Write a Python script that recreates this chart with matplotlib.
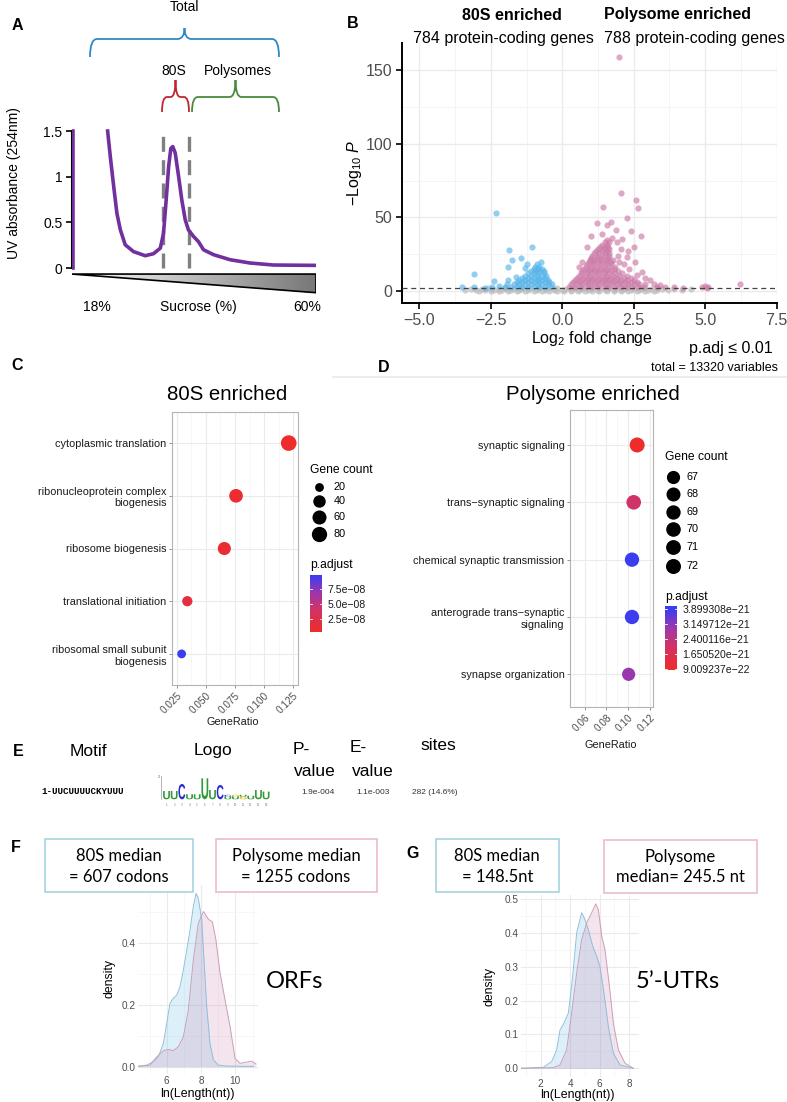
import numpy as np
import matplotlib
matplotlib.use('Agg')
import matplotlib.pyplot as plt
from matplotlib.colors import LinearSegmentedColormap, Normalize
from matplotlib.patches import Polygon, Rectangle, PathPatch
from matplotlib.path import Path
from matplotlib.textpath import TextPath
from matplotlib.font_manager import FontProperties
from matplotlib.transforms import Affine2D

plt.rcParams['font.family'] = ['Liberation Sans', 'DejaVu Sans']
plt.rcParams['mathtext.fontset'] = 'custom'
plt.rcParams['mathtext.rm'] = 'Liberation Sans'
plt.rcParams['mathtext.it'] = 'Liberation Sans:italic'
plt.rcParams['mathtext.bf'] = 'Liberation Sans:bold'

W, H = 787, 1102

# ---- A: polysome profile (x = fraction of gradient) ----
profile_x = [0.004, 0.004, np.nan, 0.146, 0.157, 0.171, 0.184, 0.198, 0.218, 0.252, 0.300, 0.334,
             0.362, 0.375, 0.386, 0.396, 0.405, 0.413, 0.423, 0.437, 0.450, 0.464, 0.477,
             0.498, 0.518, 0.539, 0.580, 0.648, 0.730, 0.825, 1.0]
profile_y = [0.0, 1.5, np.nan, 1.5, 1.22, 0.89, 0.60, 0.42, 0.255, 0.18, 0.135, 0.157,
             0.218, 0.38, 0.746, 1.11, 1.31, 1.33, 1.26, 1.00, 0.746, 0.528, 0.419,
             0.346, 0.29, 0.20, 0.146, 0.091, 0.055, 0.033, 0.029]
gate_x = [0.371, 0.479]

# ---- B: volcano ----
padj_line = 2.0
gray_rows = [
    (0.3, [-2.9, -2.5, -2.2, -1.9, -1.6, -1.3, -1.0, -0.7, -0.45, -0.2, 0.05, 0.3, 0.55, 0.8,
           1.05, 1.3, 1.55, 1.8, 2.05, 2.3, 2.6, 2.9, 3.2]),
    (0.9, [-3.4, -3.0, -2.7, -2.4, -2.1, -1.8, -1.5, -1.2, -0.9, -0.6, -0.3, 0.0, 0.3, 0.6,
           0.9, 1.2, 1.5, 1.8, 2.1, 2.4, 2.7, 3.0, 3.3, 3.7, 4.2]),
    (1.5, [-3.2, -2.8, -2.5, -2.2, -1.95, -1.7, -1.45, -1.15, -0.85, -0.55, -0.25, 0.1, 0.4,
           0.7, 1.0, 1.3, 1.6, 1.9, 2.2, 2.5, 2.8, 3.1, 3.5, 3.9, 4.5]),
    (1.95, [-2.6, -2.0, -1.4, -0.8, -0.2, 0.35, 0.95, 1.55, 2.15, 2.75, 3.3]),
]
blue_rows = [
    (3.0, [-1.8, -1.6, -1.4, -1.2, -1.0, -0.8, -0.6, -0.4]),
    (4.5, [-1.7, -1.5, -1.3, -1.1, -0.9, -0.7, -0.5, -0.35]),
    (6.0, [-1.6, -1.4, -1.2, -1.0, -0.8, -0.6, -0.45]),
    (7.5, [-1.5, -1.3, -1.1, -0.9, -0.7, -0.5]),
    (9.0, [-1.4, -1.2, -1.0, -0.8, -0.6]),
    (10.5, [-1.3, -1.1, -0.9, -0.7, -0.58]),
    (12.0, [-1.2, -1.0, -0.85, -0.65]),
    (13.5, [-1.1, -0.95, -0.78, -0.65]),
    (15.0, [-1.0, -0.85, -0.72]),
    (16.5, [-0.95, -0.8]),
    (18.0, [-0.88]),
]
blue_x = [-2.32, -1.07, -1.85, -1.44, -1.77, -1.89, -3.08, -2.38, -1.62, -1.3, -1.25, -0.75,
          -3.5, -3.1, -2.7, -2.45, -2.2, -2.0, -1.95, -1.9]
blue_y = [53.3, 29.9, 28.1, 22.4, 20.8, 16.3, 11.8, 6.8, 9.5, 15.5, 18.0, 19.5,
          2.4, 2.6, 2.3, 2.8, 3.6, 2.5, 4.5, 7.5]
pink_rows = [
    (3.0, [0.25, 0.45, 0.65, 0.85, 1.05, 1.25, 1.45, 1.65, 1.85, 2.05, 2.25, 2.45, 2.65, 2.85]),
    (4.5, [0.3, 0.5, 0.7, 0.9, 1.1, 1.3, 1.5, 1.7, 1.9, 2.1, 2.3, 2.5, 2.7]),
    (6.0, [0.38, 0.58, 0.78, 0.98, 1.18, 1.38, 1.58, 1.78, 1.98, 2.18, 2.4, 2.6]),
    (7.5, [0.45, 0.65, 0.85, 1.05, 1.25, 1.45, 1.65, 1.85, 2.05, 2.25, 2.5]),
    (9.0, [0.52, 0.72, 0.92, 1.12, 1.32, 1.52, 1.72, 1.92, 2.15, 2.4]),
    (10.5, [0.58, 0.78, 0.98, 1.18, 1.38, 1.58, 1.78, 2.0, 2.25]),
    (12.0, [0.65, 0.85, 1.05, 1.25, 1.45, 1.65, 1.85, 2.1]),
    (13.5, [0.7, 0.9, 1.1, 1.3, 1.5, 1.7, 1.95]),
    (15.0, [0.76, 0.96, 1.16, 1.36, 1.56, 1.8]),
    (16.5, [0.82, 1.02, 1.22, 1.42, 1.62, 1.85]),
    (18.0, [0.88, 1.08, 1.28, 1.48, 1.7]),
    (19.5, [0.92, 1.12, 1.32, 1.52, 1.72]),
    (21.0, [0.96, 1.16, 1.36, 1.56, 1.76]),
    (22.5, [1.0, 1.2, 1.4, 1.6]),
    (24.0, [1.05, 1.25, 1.45, 1.62]),
    (25.5, [1.1, 1.3, 1.5, 1.65]),
    (27.0, [1.18, 1.38, 1.58]),
    (28.5, [1.25, 1.45, 1.62]),
    (30.0, [1.32, 1.5]),
    (31.5, [1.4, 1.58]),
    (33.0, [1.48, 1.62]),
    (34.5, [1.55]),
]
pink_x = [2.0, 2.04, 2.57, 2.64, 1.41, 2.25, 1.23, 1.55, 1.88, 2.4, 2.74, 1.0, 1.38, 2.51, 2.07,
          0.85, 2.25, 2.55, 2.78, 3.07, 3.42, 5.0, 5.05, 6.22, 4.23, 1.75, 1.9, 2.1, 1.95, 2.15,
          2.35, 2.6, 2.9, 3.2, 3.6, 3.9, 0.7, 0.6, 1.7, 1.6, 2.0, 2.3, 2.9, 3.3, 4.9, 5.1]
pink_y = [159, 66.6, 61.6, 56.4, 57.1, 49.6, 46.5, 44.6, 41.2, 40.6, 37.4, 37.4, 39, 29.9, 28.8,
          29.9, 23.1, 19.7, 12.9, 7.3, 3.9, 3.2, 2.3, 4.5, 2.3, 36, 33, 35, 24, 18,
          15, 11, 9, 5, 3, 2.4, 20, 16, 47, 30, 20, 27, 4.5, 2.6, 2.6, 2.8]

# ---- C: 80S enriched GO terms ----
c_terms = ['cytoplasmic translation', 'ribonucleoprotein complex\nbiogenesis',
           'ribosome biogenesis', 'translational initiation',
           'ribosomal small subunit\nbiogenesis']
c_ratio = [0.1213, 0.0759, 0.0658, 0.0339, 0.0290]
c_count = [86, 54, 47, 24, 21]
c_padj = [3.5e-9, 6.0e-9, 8.0e-9, 1.5e-8, 9.8e-8]
c_count_breaks = [20, 40, 60, 80]
c_padj_breaks = [2.5e-8, 5.0e-8, 7.5e-8]
c_padj_labels = ['2.5e\u221208', '5.0e\u221208', '7.5e\u221208']

# ---- D: polysome enriched GO terms ----
d_terms = ['synaptic signaling', 'trans\u2212synaptic signaling', 'chemical synaptic transmission',
           'anterograde trans\u2212synaptic\nsignaling', 'synapse organization']
d_ratio = [0.1085, 0.1053, 0.1037, 0.1037, 0.1006]
d_count = [72, 70, 69, 69, 67]
d_padj = [9.009237e-22, 2.1e-21, 3.899308e-21, 3.87e-21, 3.0e-21]
d_count_breaks = [67, 68, 69, 70, 71, 72]
d_padj_breaks = [3.899308e-21, 3.149712e-21, 2.400116e-21, 1.650520e-21, 9.009237e-22]

# ---- E: motif logo (letter, height in px per column) ----
logo_cols = [[('U', 8.3)], [('U', 8.3)], [('C', 15.3)], [('U', 5.0)], [('U', 5.0)],
             [('U', 21.0)], [('U', 9.3)], [('C', 14.3)], [('U', 3.0), ('C', 1.5)],
             [('U', 3.0), ('G', 1.5)], [('G', 2.5), ('U', 2.0)], [('U', 3.5)],
             [('U', 9.3)], [('U', 7.7)]]
logo_colors = {'U': '#2f9a35', 'C': '#2a2ad0', 'G': '#f0b400'}

# ---- F: ORF length densities ----
f80_x = [4.35, 4.83, 5.22, 5.51, 5.81, 6.0, 6.19, 6.39, 6.58, 6.78, 6.97, 7.17, 7.36, 7.55,
         7.71, 7.84, 8.04, 8.17, 8.33, 8.52, 8.72, 9.01, 9.5, 11.05]
f80_y = [0.002, 0.005, 0.016, 0.032, 0.076, 0.14, 0.205, 0.222, 0.232, 0.26, 0.314, 0.378,
         0.443, 0.519, 0.562, 0.546, 0.476, 0.346, 0.195, 0.076, 0.022, 0.005, 0.002, 0.001]
fpol_x = [4.35, 5.03, 5.42, 5.81, 6.1, 6.39, 6.68, 6.97, 7.26, 7.55, 7.84, 8.14, 8.43, 8.66,
          8.87, 9.11, 9.4, 9.69, 9.98, 10.27, 10.66, 10.95, 11.2]
fpol_y = [0.001, 0.005, 0.032, 0.052, 0.056, 0.052, 0.065, 0.097, 0.184, 0.346, 0.465, 0.503,
          0.478, 0.47, 0.41, 0.303, 0.216, 0.13, 0.027, 0.011, 0.015, 0.018, 0.009]

# ---- G: 5'UTR length densities ----
g80_x = [0.64, 2.18, 2.75, 3.08, 3.31, 3.58, 3.88, 4.17, 4.44, 4.78, 5.0, 5.23, 5.53, 5.80,
         6.02, 6.29, 6.59, 6.93, 7.38, 8.28]
g80_y = [0.0, 0.003, 0.02, 0.054, 0.113, 0.133, 0.163, 0.271, 0.399, 0.459, 0.439, 0.409,
         0.36, 0.33, 0.30, 0.222, 0.123, 0.044, 0.01, 0.0]
gpol_x = [0.64, 2.86, 3.31, 3.76, 4.10, 4.44, 4.78, 5.12, 5.46, 5.73, 5.91, 6.14, 6.36, 6.66,
          6.93, 7.27, 7.72, 8.28]
gpol_y = [0.0, 0.002, 0.01, 0.054, 0.163, 0.281, 0.38, 0.429, 0.459, 0.485, 0.468, 0.39,
          0.35, 0.242, 0.133, 0.054, 0.015, 0.0]

cmap = LinearSegmentedColormap.from_list(
    'padj', [(0, '#ee2c2c'), (0.4, '#cf3468'), (0.7, '#9b37af'), (1, '#3b3df0')])

fig = plt.figure(figsize=(W / 100, H / 100), dpi=100)


def px_axes(l, t, r, b):
    return fig.add_axes([l / W, 1 - b / H, (r - l) / W, (b - t) / H])


def flatten(rows):
    xs, ys = [], []
    for y, row in rows:
        xs += row
        ys += [y] * len(row)
    return xs, ys


# ---------------- A ----------------
axA = px_axes(72, 121.9, 316, 313.7)
axA.set_xlim(0, 1)
axA.set_ylim(-0.5, 1.6)
for g in gate_x:
    axA.plot([g, g], [0, 1.5], color='#808080', lw=2.4, ls=(0, (4.5, 2.5)), zorder=2)
axA.plot(profile_x, profile_y, color='#7030a0', lw=2.6, zorder=3)
tri = Polygon([(0, -0.066), (1, -0.066), (1, -0.27)], closed=True, fc='none', ec='black', lw=1.2)
grad = axA.imshow(np.linspace(0, 1, 256)[None, :], extent=(0, 1, -0.27, -0.066), aspect='auto',
                  cmap=LinearSegmentedColormap.from_list('g', ['white', '#777777']), zorder=1)
axA.add_patch(tri)
grad.set_clip_path(tri)
for s in ['top', 'right', 'bottom']:
    axA.spines[s].set_visible(False)
axA.spines['left'].set_bounds(0, 1.5)
axA.spines['left'].set_linewidth(1.5)
axA.set_xticks([])
axA.set_yticks([0, 0.5, 1, 1.5])
axA.set_yticklabels(['0', '0.5', '1', '1.5'])
axA.tick_params(axis='y', length=4, width=1.2, labelsize=10, pad=3)
axA.patch.set_alpha(0)

# ---------------- B ----------------
axB = px_axes(402, 43, 777, 303)
axB.set_xlim(-5.605, 7.51)
axB.set_ylim(-8.15, 168.4)
gx, gy = flatten(gray_rows)
bx, by = flatten(blue_rows)
px_, py_ = flatten(pink_rows)
axB.scatter(gx, gy, s=20, color='#bdbdbd', alpha=0.7, lw=0, zorder=2)
axB.scatter(bx + blue_x, by + blue_y, s=20, color='#56B4E9', alpha=0.65, lw=0, zorder=3)
axB.scatter(px_ + pink_x, py_ + pink_y, s=20, color='#CC79A7', alpha=0.65, lw=0, zorder=3)
axB.axhline(padj_line, color='#444444', lw=0.9, ls=(0, (4, 3)), zorder=4)
axB.set_xticks([-5, -2.5, 0, 2.5, 5, 7.5])
axB.set_xticklabels(['\u22125.0', '\u22122.5', '0.0', '2.5', '5.0', '7.5'])
axB.set_xticks([-3.75, -1.25, 1.25, 3.75, 6.25], minor=True)
axB.set_yticks([0, 50, 100, 150])
axB.set_yticks([25, 75, 125], minor=True)
axB.grid(which='major', color='#ebebeb', lw=1.0)
axB.grid(which='minor', color='#f3f3f3', lw=0.6)
axB.set_axisbelow(True)
for s in ['top', 'right']:
    axB.spines[s].set_visible(False)
for s in ['left', 'bottom']:
    axB.spines[s].set_linewidth(1.4)
axB.tick_params(which='major', length=4, width=1.2, labelsize=11.5, labelcolor='#4d4d4d', pad=3)
axB.tick_params(which='minor', length=0)


# ---------------- C / D dot plots ----------------
def dotplot(ax, terms, ratio, count, padj, norm, radius, xlim, ylim, xticks, xlabels, xminor):
    ys = np.arange(1, len(terms) + 1)
    sizes = [(1.44 * radius(c)) ** 2 for c in count]
    ax.scatter(ratio, ys, s=sizes, c=padj, cmap=cmap, norm=norm, lw=0, zorder=3)
    ax.set_xlim(xlim)
    ax.set_ylim(ylim)
    ax.set_yticks(ys)
    ax.set_yticklabels(terms, fontsize=7.8, color='#1a1a1a')
    ax.set_xticks(xticks)
    ax.set_xticklabels(xlabels, fontsize=7.2, color='#4d4d4d', rotation=45,
                       ha='right', va='top', rotation_mode='anchor')
    ax.set_xticks(xminor, minor=True)
    ax.grid(which='major', color='#ebebeb', lw=0.8)
    ax.grid(which='minor', axis='x', color='#f4f4f4', lw=0.5)
    ax.set_axisbelow(True)
    for s in ax.spines.values():
        s.set_color('#b3b3b3')
        s.set_linewidth(0.8)
    ax.tick_params(which='major', length=2.5, width=0.6, color='#7f7f7f', pad=1.5)
    ax.tick_params(which='minor', length=0)


def c_radius(c):
    return 4.4 + 3.4 * np.sqrt(max(c - 21, 0) / 65)


def d_radius(c):
    return 6.6 + 0.9 * np.sqrt((c - 67) / 5)


axC = px_axes(172, 412, 298, 685)
normC = Normalize(min(c_padj), max(c_padj))
dotplot(axC, c_terms, c_ratio, c_count, c_padj, normC, c_radius, (0.0207, 0.1293), (5.59, 0.41),
        [0.025, 0.05, 0.075, 0.1, 0.125], ['0.025', '0.050', '0.075', '0.100', '0.125'],
        [0.0375, 0.0625, 0.0875, 0.1125])

axD = px_axes(570, 410, 653, 707)
normD = Normalize(min(d_padj), max(d_padj))
dotplot(axD, d_terms, d_ratio, d_count, d_padj, normD, d_radius, (0.0462, 0.1232), (5.57, 0.39),
        [0.06, 0.08, 0.10, 0.12], ['0.06', '0.08', '0.10', '0.12'], [0.05, 0.07, 0.09, 0.11])


def colorbar(l, t, r, b, norm, lo, hi, ticks, labels):
    cax = px_axes(l, t, r, b)
    cax.imshow(np.linspace(lo, hi, 200)[:, None], aspect='auto', cmap=cmap, norm=norm,
               origin='lower', extent=(0, 1, lo, hi))
    cax.set_xlim(0, 1)
    cax.set_ylim(lo, hi)
    cax.set_xticks([])
    cax.yaxis.tick_right()
    cax.set_yticks(ticks)
    cax.set_yticklabels(labels, fontsize=7.6, color='#1a1a1a')
    cax.tick_params(length=0, pad=4)
    for tv in ticks:
        cax.plot([0, 0.2], [tv, tv], color='white', lw=0.6)
        cax.plot([0.8, 1], [tv, tv], color='white', lw=0.6)
    for s in cax.spines.values():
        s.set_visible(False)


colorbar(310, 575, 322, 632, normC, 3.3e-9, 9.83e-8, c_padj_breaks, c_padj_labels)
colorbar(665, 606, 677, 670, normD, 8.5e-22, 4.049e-21, d_padj_breaks,
         [f'{v:.6e}'.replace('-', '\u2212') for v in d_padj_breaks])


# ---------------- F / G densities ----------------
def density(ax, x80, y80, xpol, ypol, xlim, ylim, xt, yt, xminor, yminor):
    ax.fill_between(x80, y80, color='#56B4E9', alpha=0.2, lw=0)
    ax.fill_between(xpol, ypol, color='#CC79A7', alpha=0.2, lw=0)
    ax.plot(x80, y80, color='#8fbfd8', lw=0.7)
    ax.plot(xpol, ypol, color='#c9a0b9', lw=0.7)
    ax.set_xlim(xlim)
    ax.set_ylim(ylim)
    ax.set_xticks(xt)
    ax.set_xticklabels([str(v) for v in xt])
    ax.set_yticks(yt)
    ax.set_yticklabels([f'{v:.1f}' for v in yt])
    ax.set_xticks(xminor, minor=True)
    ax.set_yticks(yminor, minor=True)
    ax.grid(which='major', color='#ebebeb', lw=0.8)
    ax.grid(which='minor', color='#f4f4f4', lw=0.5)
    ax.set_axisbelow(True)
    for s in ax.spines.values():
        s.set_visible(False)
    ax.tick_params(which='both', length=0, labelsize=7.2, labelcolor='#4d4d4d', pad=1.5)
    ax.patch.set_alpha(0)


axF = px_axes(137.5, 884.7, 257.7, 1073.5)
density(axF, f80_x, f80_y, fpol_x, fpol_y, (4.3, 11.3), (-0.022, 0.59), [6, 8, 10],
        [0.0, 0.2, 0.4], [5, 7, 9, 11], [0.1, 0.3, 0.5])
axG = px_axes(520.6, 895.4, 639.2, 1076.8)
density(axG, g80_x, g80_y, gpol_x, gpol_y, (0.64, 8.68), (-0.025, 0.51), [2, 4, 6, 8],
        [0.0, 0.1, 0.2, 0.3, 0.4, 0.5], [1, 3, 5, 7], [0.05, 0.15, 0.25, 0.35, 0.45])

# ---------------- overlay (pixel coordinates) ----------------
ov = fig.add_axes([0, 0, 1, 1])
ov.set_xlim(0, W)
ov.set_ylim(H, 0)
ov.axis('off')


def brace(x0, x1, y_end, y_mid, y_tip, color, q=6):
    xm = (x0 + x1) / 2
    verts = [(x0, y_end), (x0, y_mid), (x0 + q, y_mid), (xm - q, y_mid), (xm, y_mid), (xm, y_tip),
             (xm, y_mid), (xm + q, y_mid), (x1 - q, y_mid), (x1, y_mid), (x1, y_end)]
    codes = [Path.MOVETO, Path.CURVE3, Path.CURVE3, Path.LINETO, Path.CURVE3, Path.CURVE3,
             Path.CURVE3, Path.CURVE3, Path.LINETO, Path.CURVE3, Path.CURVE3]
    ov.add_patch(PathPatch(Path(verts, codes), fc='none', ec=color, lw=1.3))


def label(x, y, s, **kw):
    kw.setdefault('ha', 'center')
    kw.setdefault('va', 'center')
    ov.text(x, y, s, **kw)


# panel letters
for ch, x, y in [('A', 17, 25), ('B', 353, 23), ('C', 17, 365), ('D', 384, 367),
                 ('E', 18, 752), ('F', 16, 848), ('G', 413, 853)]:
    label(x, y, ch, fontsize=11.5, fontweight='bold')

# A annotations
brace(90, 279, 57, 39, 28, '#2f8ac4', q=7)
brace(162, 189, 112, 97, 80, '#c0262d', q=5)
brace(192, 279, 112, 97, 80, '#4a8a3c', q=6)
label(185, 7, 'Total', fontsize=10)
label(174, 71, '80S', fontsize=10)
label(238, 71, 'Polysomes', fontsize=10)
label(14, 183, 'UV absorbance (254nm)', fontsize=10, rotation=90)
label(97, 307, '18%', fontsize=10)
label(198, 307, 'Sucrose (%)', fontsize=10)
label(307, 307, '60%', fontsize=10)

# B annotations
label(512, 15, '80S enriched', fontsize=11.5, fontweight='bold')
label(677, 15, 'Polysome enriched', fontsize=11.5, fontweight='bold')
label(503, 39, '784 protein-coding genes', fontsize=11.5)
label(694, 39, '788 protein-coding genes', fontsize=11.5)
label(355, 173, r'$-$Log$_{10}$ $\mathit{P}$', fontsize=11.5, rotation=90)
label(592, 339, r'Log$_{2}$ fold change', fontsize=11.5)
label(773, 348, 'p.adj \u2264 0.01', fontsize=11.5, ha='right')
label(778, 368, 'total = 13320 variables', fontsize=9, ha='right')
ov.plot([333, 787], [377, 377], color='#ededed', lw=1.5)

# C / D titles, axis titles and legends
label(227, 395, '80S enriched', fontsize=14.7)
label(593, 395, 'Polysome enriched', fontsize=14.7)
label(233, 722, 'GeneRatio', fontsize=7.8, color='#1a1a1a')
label(611, 745, 'GeneRatio', fontsize=7.8, color='#1a1a1a')

label(310, 470, 'Gene count', fontsize=8.7, ha='left')
for c, y in zip(c_count_breaks, [487, 501, 517, 534]):
    ov.scatter([319], [y], s=(1.44 * c_radius(c)) ** 2, color='black', lw=0)
    label(334, y, str(c), fontsize=7.8, ha='left')
label(310, 565, 'p.adjust', fontsize=8.7, ha='left')

label(665, 457, 'Gene count', fontsize=8.7, ha='left')
for c, y in zip(d_count_breaks, [476.7, 494, 511.7, 529.3, 547.3, 565.7]):
    ov.scatter([673.3], [y], s=(1.44 * d_radius(c)) ** 2, color='black', lw=0)
    label(686.7, y, str(c), fontsize=7.8, ha='left')
label(665, 596.7, 'p.adjust', fontsize=8.7, ha='left')

# E: MEME table
label(88, 752, 'Motif', fontsize=12.5)
label(213, 750, 'Logo', fontsize=12.5)
label(293, 750, 'P-', fontsize=12.5, ha='left')
label(315, 771, 'value', fontsize=12.5)
label(350, 748, 'E-', fontsize=12.5, ha='left')
label(373, 771, 'value', fontsize=12.5)
label(438, 746, 'sites', fontsize=12.5)
label(83, 792, '1-UUCUUUUCKYUUU', fontsize=6.6, fontweight='bold', family='Liberation Mono')
label(318, 792, '1.9e-004', fontsize=6, color='#333333')
label(373, 792, '1.1e-003', fontsize=6, color='#333333')
label(435, 793, '282 (14.6%)', fontsize=6, color='#333333')

fp = FontProperties(family='Liberation Sans', weight='bold')
base, col_w, x_start = 799.3, 7.66, 162.7
ov.plot([160.5, 160.5], [776, base], color='#999999', lw=0.5)
label(158.5, 777, '2', fontsize=3, color='#666666')
for i, col in enumerate(logo_cols):
    x0 = x_start + i * col_w + 0.4
    y0 = base
    for ch, h in col:
        tp = TextPath((0, 0), ch, size=10, prop=fp)
        bb = tp.get_extents()
        tr = Affine2D().translate(-bb.x0, -bb.y0).scale((col_w - 0.8) / bb.width, -h / bb.height)
        tr = tr.translate(x0, y0)
        ov.add_patch(PathPatch(tr.transform_path(tp), fc=logo_colors[ch], lw=0))
        y0 -= h
    label(x_start + (i + 0.5) * col_w, 805, str(i + 1), fontsize=2.2, color='#7a7aa0')

# F / G boxes and labels
box_font = dict(family=['Lato', 'DejaVu Sans'], fontsize=12)
ov.add_patch(Rectangle((45, 839), 147.7, 53, fc='white', ec='#a6d3e3', lw=1.2))
ov.add_patch(Rectangle((216, 839), 160.7, 53, fc='white', ec='#ebbcc9', lw=1.2))
label(119, 856, '80S median', **box_font)
label(119, 877, '= 607 codons', **box_font)
label(296, 856, 'Polysome median', **box_font)
label(296, 877, '= 1255 codons', **box_font)
ov.add_patch(Rectangle((436, 839), 123.3, 53, fc='white', ec='#a6d3e3', lw=1.2))
ov.add_patch(Rectangle((604.3, 839.7), 152.4, 53.6, fc='white', ec='#ebbcc9', lw=1.2))
label(497.3, 856, '80S median', **box_font)
label(497.3, 877, '= 148.5nt', **box_font)
label(680, 857, 'Polysome', **box_font)
label(680, 877.5, 'median= 245.5 nt', **box_font)
label(295, 982, 'ORFs', family=['Lato', 'DejaVu Sans'], fontsize=17)
label(678, 982, '5\u2019-UTRs', family=['Lato', 'DejaVu Sans'], fontsize=17)
label(110, 978, 'density', fontsize=8.8, rotation=90)
label(489, 987, 'density', fontsize=8.8, rotation=90)
label(197, 1094, 'ln(Length(nt))', fontsize=8.9)
label(577, 1095, 'ln(Length(nt))', fontsize=8.9)

fig.savefig('out.png', dpi=100)
